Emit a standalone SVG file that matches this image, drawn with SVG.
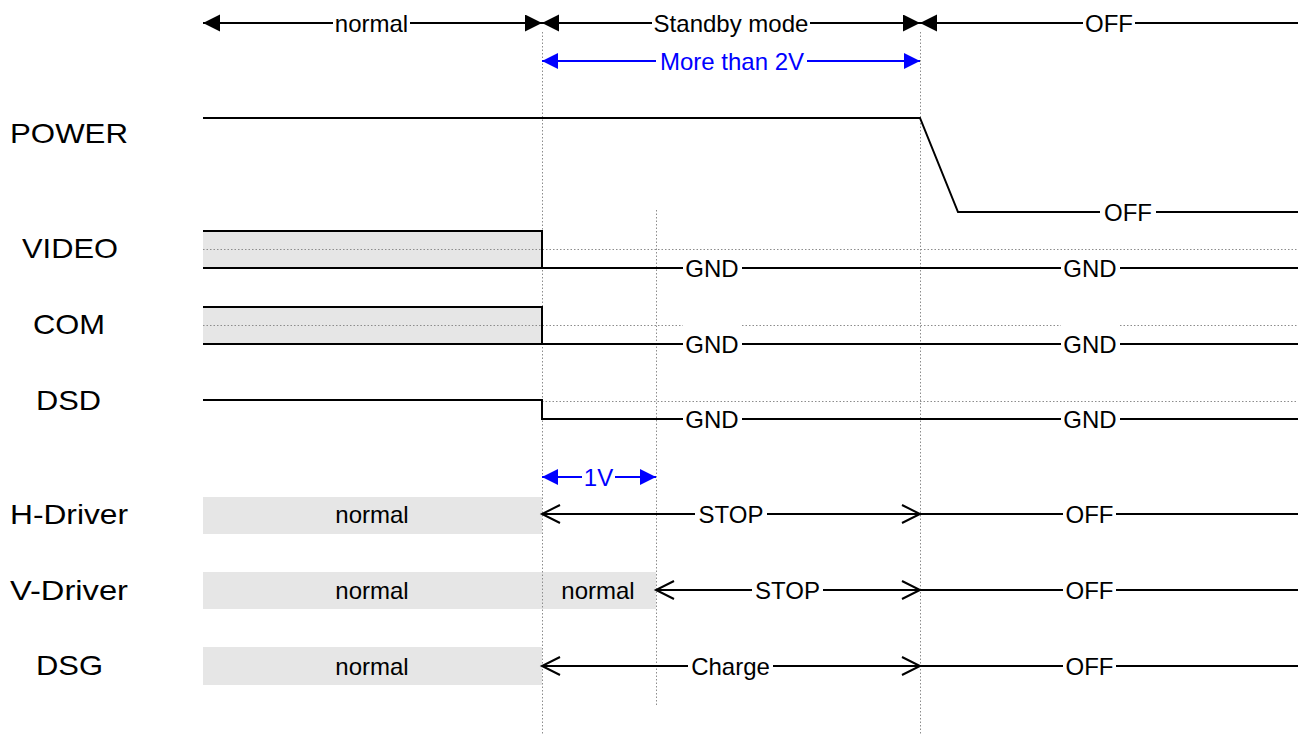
<svg xmlns="http://www.w3.org/2000/svg" width="1311" height="735" viewBox="0 0 1311 735">
  <style>
    text { font-family: "Liberation Sans", Arial, sans-serif; }
    .lbl { font-size: 28px; fill: #000; }
    .t { font-size: 24px; fill: #000; text-anchor: middle; }
    .tb { font-size: 24px; fill: #0000ff; text-anchor: middle; }
    .sig { fill: none; stroke: #000; stroke-width: 2; }
    .dim { fill: none; stroke: #000; stroke-width: 2; }
    .dimb { fill: none; stroke: #0000ff; stroke-width: 2; }
    .dot { fill: none; stroke: #8c8c8c; stroke-width: 1; stroke-dasharray: 1.5 2; }
    .box { fill: #e6e6e6; stroke: none; }
    .fwd { marker-end: url(#tri); }
    .bwd { marker-start: url(#tri); }
    .fwdb { marker-end: url(#trib); }
    .bwdb { marker-start: url(#trib); }
    .ofwd { marker-end: url(#chev); }
    .obwd { marker-start: url(#chev); }
  </style>
  <defs>
    <marker id="tri" markerUnits="userSpaceOnUse" markerWidth="18" markerHeight="18" refX="17" refY="8.5" orient="auto-start-reverse">
      <path d="M0,0 L17,8.5 L0,17 Z" fill="#000"/>
    </marker>
    <marker id="trib" markerUnits="userSpaceOnUse" markerWidth="18" markerHeight="18" refX="16" refY="8" orient="auto-start-reverse">
      <path d="M0,0 L16,8 L0,16 Z" fill="#0000ff"/>
    </marker>
    <marker id="chev" markerUnits="userSpaceOnUse" markerWidth="22" markerHeight="22" refX="19" refY="10" orient="auto-start-reverse">
      <path d="M1,1 L19,10 L1,19" fill="none" stroke="#000" stroke-width="2"/>
    </marker>
  </defs>

  <!-- signal names -->
  <g id="labels">
    <text class="lbl" x="10" y="143" textLength="118" lengthAdjust="spacingAndGlyphs">POWER</text>
    <text class="lbl" x="22" y="258" textLength="96" lengthAdjust="spacingAndGlyphs">VIDEO</text>
    <text class="lbl" x="33" y="334" textLength="72" lengthAdjust="spacingAndGlyphs">COM</text>
    <text class="lbl" x="36" y="410" textLength="65" lengthAdjust="spacingAndGlyphs">DSD</text>
    <text class="lbl" x="10" y="524" textLength="118" lengthAdjust="spacingAndGlyphs">H-Driver</text>
    <text class="lbl" x="10" y="600" textLength="118" lengthAdjust="spacingAndGlyphs">V-Driver</text>
    <text class="lbl" x="36" y="675" textLength="67" lengthAdjust="spacingAndGlyphs">DSG</text>
  </g>

  <!-- gray boxes for the active (normal) period -->
  <g id="boxes">
    <rect class="box" x="203" y="231" width="339" height="37"/>
    <rect class="box" x="203" y="307" width="339" height="37"/>
    <rect class="box" x="203" y="497" width="339" height="37"/>
    <rect class="box" x="203" y="572" width="453" height="37"/>
    <rect class="box" x="203" y="647" width="339" height="38"/>
  </g>

  <!-- dotted guides -->
  <g id="guides">
    <line class="dot" x1="542.5" y1="32" x2="542.5" y2="735"/>
    <line class="dot" x1="920.5" y1="32" x2="920.5" y2="735"/>
    <line class="dot" x1="656.5" y1="210" x2="656.5" y2="705"/>
    <line class="dot" x1="203" y1="249.5" x2="1298" y2="249.5"/>
    <path class="dot" d="M203,325.5 H683 M742,325.5 H1061 M1120,325.5 H1298"/>
    <line class="dot" x1="542" y1="401.5" x2="1298" y2="401.5"/>
  </g>

  <!-- phase dimension arrows -->
  <g id="connectors">
    <line class="dim bwd" x1="203" y1="23" x2="333" y2="23"/>
    <line class="dim fwd" x1="410" y1="23" x2="542" y2="23"/>
    <line class="dim bwd" x1="542" y1="23" x2="652" y2="23"/>
    <line class="dim fwd" x1="810" y1="23" x2="920" y2="23"/>
    <line class="dim bwd" x1="920" y1="23" x2="1083" y2="23"/>
    <line class="dim" x1="1135" y1="23" x2="1298" y2="23"/>
    <line class="dimb bwdb" x1="542" y1="61" x2="656" y2="61"/>
    <line class="dimb fwdb" x1="807" y1="61" x2="920" y2="61"/>
    <line class="dimb bwdb" x1="542" y1="477" x2="582" y2="477"/>
    <line class="dimb fwdb" x1="615" y1="477" x2="656" y2="477"/>
  </g>
  <g id="phase-text">
    <text class="t" x="371.5" y="31.5">normal</text>
    <text class="t" x="731" y="31.5">Standby mode</text>
    <text class="t" x="1109" y="31.5">OFF</text>
    <text class="tb" x="732" y="69.5">More than 2V</text>
    <text class="tb" x="598.5" y="485.5">1V</text>
  </g>

  <g id="power">
    <path class="sig" d="M203,118 H920 L958,212 H1100 M1156,212 H1298"/>
    <text class="t" x="1128" y="220.5">OFF</text>
  </g>

  <g id="video">
    <path class="sig" d="M203,231 H542 V268 M203,268 H683 M742,268 H1061 M1120,268 H1298"/>
    <text class="t" x="712" y="277">GND</text>
    <text class="t" x="1090" y="277">GND</text>
  </g>

  <g id="com">
    <path class="sig" d="M203,307 H542 V344 M203,344 H683 M742,344 H1061 M1120,344 H1298"/>
    <text class="t" x="712" y="353">GND</text>
    <text class="t" x="1090" y="353">GND</text>
  </g>

  <g id="dsd">
    <path class="sig" d="M203,400 H542 V419 H683 M742,419 H1061 M1120,419 H1298"/>
    <text class="t" x="712" y="428">GND</text>
    <text class="t" x="1090" y="428">GND</text>
  </g>

  <g id="h-driver">
    <text class="t" x="372" y="523">normal</text>
    <line class="sig obwd" x1="542" y1="514" x2="695" y2="514"/>
    <line class="sig ofwd" x1="767" y1="514" x2="920" y2="514"/>
    <path class="sig" d="M920,514 H1063 M1116,514 H1298"/>
    <text class="t" x="731" y="522.5">STOP</text>
    <text class="t" x="1089.5" y="522.5">OFF</text>
  </g>

  <g id="v-driver">
    <text class="t" x="372" y="599">normal</text>
    <text class="t" x="598" y="599">normal</text>
    <line class="sig obwd" x1="656" y1="590" x2="752" y2="590"/>
    <line class="sig ofwd" x1="823" y1="590" x2="920" y2="590"/>
    <path class="sig" d="M920,590 H1063 M1116,590 H1298"/>
    <text class="t" x="787.5" y="598.5">STOP</text>
    <text class="t" x="1089.5" y="598.5">OFF</text>
  </g>

  <g id="dsg">
    <text class="t" x="372" y="674.5">normal</text>
    <line class="sig obwd" x1="542" y1="666" x2="688" y2="666"/>
    <line class="sig ofwd" x1="773" y1="666" x2="920" y2="666"/>
    <path class="sig" d="M920,666 H1063 M1116,666 H1298"/>
    <text class="t" x="730.5" y="674.5">Charge</text>
    <text class="t" x="1089.5" y="674.5">OFF</text>
  </g>
</svg>
